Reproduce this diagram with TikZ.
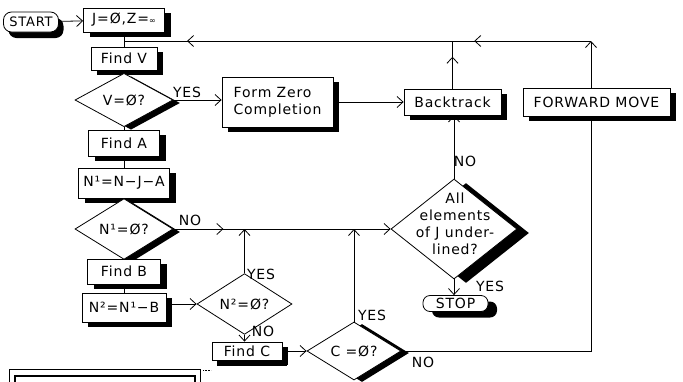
\documentclass[tikz,border=0pt]{standalone}
\usepackage{fontspec}
\setmainfont{DejaVu Sans}[LetterSpace=6]
\usetikzlibrary{shapes.geometric}
\usetikzlibrary{shadows}
\usetikzlibrary{arrows.meta}
\usetikzlibrary{decorations.markings}
\tikzset{basic/.style={draw,fill=white,line width=0.8pt,inner sep=0pt,
                       font=\fontsize{14}{17}\selectfont}}
\tikzset{blackshadow/.style 2 args={general shadow={fill=black,
                       shadow xshift=#1,shadow yshift=-#2}}}
\tikzset{process/.style={basic,rectangle,blackshadow={6pt}{5pt}}}
\tikzset{decision/.style={basic,diamond}}
\tikzset{terminal/.style={basic,rectangle,rounded corners=8pt}}
\tikzset{tag/.style={inner sep=0pt,font=\fontsize{14}{17}\selectfont}}
\tikzset{flow/.style={line width=0.8pt}}
\tikzset{midarrow/.style={postaction={decorate,decoration={markings,
                       mark=at position #1 with {\arrow{>}}}}}}

\begin{document}
\begin{tikzpicture}[x=1pt,y=-1pt,>={Straight Barb[length=6pt,width=11pt]}]
    \useasboundingbox (0,0) rectangle (683,381);

    % left column
    \node[terminal,blackshadow={5pt}{6pt},minimum width=55pt,minimum height=20pt,
          font=\fontsize{13}{15}\selectfont] (start) at (31,22) {START};
    \node[process,minimum width=81pt,minimum height=24pt] (jz) at (124,20) {J=Ø,Z={\footnotesize ∞}};
    \node[process,minimum width=66pt,minimum height=23pt] (findv) at (124,58.5) {Find V};
    \node[decision,blackshadow={7pt}{3pt},minimum width=98pt,minimum height=38pt] (vzero) at (124,100) {V=Ø?};
    \node[process,minimum width=71pt,minimum height=26pt] (finda) at (124,143) {Find A};
    \node[process,minimum width=91pt,minimum height=30pt] (nonebox) at (124,183) {N¹=N−J−A};
    \node[decision,blackshadow={7pt}{3pt},minimum width=98pt,minimum height=40pt] (nonezero) at (124,229) {N¹=Ø?};
    \node[process,minimum width=73pt,minimum height=25pt] (findb) at (124,271.5) {Find B};
    \node[process,minimum width=84pt,minimum height=29pt] (ntwobox) at (124,307.5) {N²=N¹−B};

    % middle
    \node[decision,minimum width=95pt,minimum height=40pt] (ntwozero) at (244.5,304) {N²=Ø?};
    \node[process,blackshadow={5pt}{6pt},minimum width=70pt,minimum height=18pt] (findc) at (247,351) {Find C};
    \node[decision,blackshadow={8pt}{2pt},minimum width=94pt,minimum height=40pt] (czero) at (354,351) {C =Ø?};
    \node[process,minimum width=111pt,minimum height=50pt,align=left] (formzero) at (277.5,102) {Form Zero\\Completion};

    % right
    \node[process,minimum width=97pt,minimum height=26pt] (backtrack) at (452.5,102) {Backtrack};
    \node[process,minimum width=147pt,minimum height=28pt] (forward) at (596.5,102) {FORWARD MOVE};
    \node[decision,blackshadow={12pt}{4pt},minimum width=126pt,minimum height=100pt] (allj) at (454,229) {};
    \node[tag,align=center] (alljtext) at (455,224) {All\\elements\\of J under-\\lined?};
    \node[terminal,blackshadow={9pt}{6pt},minimum width=65pt,minimum height=16pt,
          rounded corners=7pt] (stop) at (455.5,303.5) {STOP};

    \coordinate (topj) at (124,41);
    \coordinate (fwtop) at (591,41);

    % connectors
    \draw[flow,->] (start) -- (jz);
    \draw[flow] (jz) -- (findv);
    \draw[flow] (findv) -- (vzero);
    \draw[flow,->] (vzero.east) -- (vzero.east -| formzero.west);
    \draw[flow,->] (formzero) -- (backtrack);
    \draw[flow] (vzero) -- (finda);
    \draw[flow] (finda) -- (nonebox);
    \draw[flow] (nonebox) -- (nonezero);
    \draw[flow] (nonezero) -- (findb);
    \draw[flow] (findb) -- (ntwobox);
    \draw[flow,->] (ntwobox.east |- ntwozero.west) -- (ntwozero.west);
    \draw[flow,->] (ntwozero.north) -- (ntwozero.north |- nonezero.east);
    \draw[flow,->] (ntwozero.south) -- (ntwozero.south |- findc.north);
    \draw[flow,->] (findc) -- (czero);
    \draw[flow,->] (czero.north) -- (czero.north |- nonezero.east);
    \draw[flow,midarrow=0.23,->] (nonezero.east) -- (allj.west);
    \draw[flow,->] (allj.north) -- (allj.north |- backtrack.south);
    \draw[flow,->] (allj.south) -- (allj.south |- stop.north);
    \draw[flow] (czero.east) -- (czero.east -| fwtop) -- (fwtop |- forward.south);
    \draw[flow,->] (fwtop |- forward.north) -- (fwtop);
    \draw[flow,midarrow=0.67] (backtrack.north) -- (backtrack.north |- topj);
    \draw[flow,midarrow=0.25,midarrow=0.865] (fwtop) -- (topj);

    % Labels
    \node[tag] (yesv) at (187,92) {YES};
    \node[tag] (noone) at (190,220) {NO};
    \node[tag] (yestwo) at (261,274) {YES};
    \node[tag] (notwo) at (263,331) {NO};
    \node[tag] (yesc) at (372,315) {YES};
    \node[tag] (noc) at (423,362) {NO};
    \node[tag] (noall) at (465,161) {NO};
    \node[tag] (yesall) at (490,286) {YES};

    % window frame at the bottom
    \draw[line width=0.8pt] (9,395) -- (9,369) -- (200,369) -- (200,395);
    \draw[line width=2pt] (15,395) -- (15,376) -- (195,376) -- (195,395);
    \draw[line width=0.6pt,densely dotted] (203,370) -- (211,370);
\end{tikzpicture}
\end{document}
